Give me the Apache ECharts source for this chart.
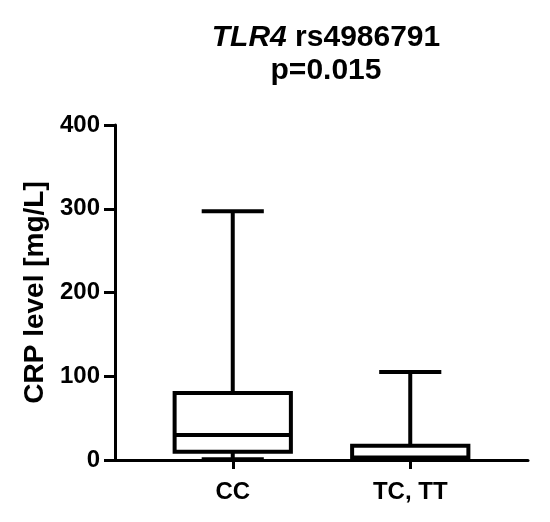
<!DOCTYPE html>
<html><head><meta charset="utf-8">
<script src="https://cdn.jsdelivr.net/npm/echarts@6/dist/echarts.min.js"></script>
<style>html,body{margin:0;padding:0;background:#fff}#c{width:550px;height:522px}</style>
</head><body><div id="c"></div>
<script>
const categories = ['CC', 'TC, TT'];
// [min, Q1, median, Q3, max]
const boxValues = [
  [1, 10, 30, 80, 297],
  [0.5, 1.5, 3, 17, 105]
];
const yTicks = [0, 100, 200, 300, 400];

const chart = echarts.init(document.getElementById('c'));
const FONT = 'Liberation Sans, Arial, sans-serif';
const data = boxValues.map((v, i) => [i].concat(v));

chart.setOption({
  backgroundColor: '#fff',
  animation: false,
  title: {
    text: '{i|TLR4}{n| rs4986791}\n{n|p=0.015}',
    left: 321, textAlign: 'center', top: 16,
    textStyle: {
      lineHeight: 33,
      rich: {
        i: {fontFamily: FONT, fontSize: 30, fontWeight: 'bold', fontStyle: 'italic', color: '#000', lineHeight: 33},
        n: {fontFamily: FONT, fontSize: 30, fontWeight: 'bold', color: '#000', lineHeight: 33}
      }
    }
  },
  grid: [
    {left: 115, right: 22, top: 125, bottom: 62},
    {left: 144, right: 51, top: 125, bottom: 62}
  ],
  xAxis: [
    {gridIndex: 0, type: 'value', min: 0, max: 1, axisLine: {show: true, lineStyle: {color: '#000', width: 3}},
     axisTick: {show: false}, axisLabel: {show: false}, splitLine: {show: false}},
    {gridIndex: 1, type: 'category', data: categories, boundaryGap: true,
     axisLine: {show: false},
     axisTick: {show: true, alignWithLabel: true, length: 9, lineStyle: {color: '#000', width: 3}},
     axisLabel: {color: '#000', fontFamily: FONT, fontSize: 24, fontWeight: 'bold', margin: 20},
     splitLine: {show: false}}
  ],
  yAxis: [
    {gridIndex: 0, type: 'value', min: 0, max: 400, interval: 100,
     name: 'CRP level [mg/L]', nameLocation: 'middle', nameGap: 64, nameRotate: 90,
     nameTextStyle: {color: '#000', fontFamily: FONT, fontSize: 28, fontWeight: 'bold'},
     axisLine: {show: true, lineStyle: {color: '#000', width: 3}},
     axisTick: {show: true, length: 11, lineStyle: {color: '#000', width: 3}},
     axisLabel: {color: '#000', fontFamily: FONT, fontSize: 24, fontWeight: 'bold', margin: 15},
     splitLine: {show: false}},
    {gridIndex: 1, type: 'value', min: 0, max: 400, show: false}
  ],
  series: [{
    type: 'custom',
    xAxisIndex: 1, yAxisIndex: 1,
    data: data,
    renderItem: function (params, api) {
      const x = api.value(0);
      const pMin = api.coord([x, api.value(1)]);
      const pQ1 = api.coord([x, api.value(2)]);
      const pMed = api.coord([x, api.value(3)]);
      const pQ3 = api.coord([x, api.value(4)]);
      const pMax = api.coord([x, api.value(5)]);
      const band = api.size([1, 0])[0];
      const bw = band * 0.655 / 2;
      const cw = band * 0.35 / 2;
      const cx = pMed[0];
      const st = {stroke: '#000', lineWidth: 4, fill: null};
      return {
        type: 'group',
        children: [
          {type: 'line', shape: {x1: cx, y1: pQ3[1], x2: cx, y2: pMax[1]}, style: st},
          {type: 'line', shape: {x1: cx - cw, y1: pMax[1], x2: cx + cw, y2: pMax[1]}, style: st},
          {type: 'line', shape: {x1: cx, y1: pQ1[1], x2: cx, y2: pMin[1]}, style: st},
          {type: 'line', shape: {x1: cx - cw, y1: pMin[1], x2: cx + cw, y2: pMin[1]}, style: st},
          {type: 'rect', shape: {x: cx - bw, y: pQ3[1], width: bw * 2, height: pQ1[1] - pQ3[1]},
           style: {stroke: '#000', lineWidth: 4, fill: '#fff'}},
          {type: 'line', shape: {x1: cx - bw, y1: pMed[1], x2: cx + bw, y2: pMed[1]}, style: st}
        ]
      };
    }
  }]
});
</script></body></html>
